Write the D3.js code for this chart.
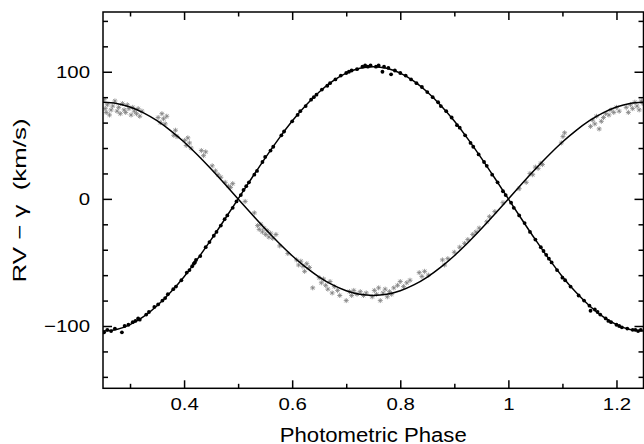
<!DOCTYPE html>
<html><head><meta charset="utf-8">
<script src="https://cdn.jsdelivr.net/npm/d3@7"></script>
<style>html,body{margin:0;padding:0;background:#fff}</style>
</head><body>
<svg id="c" width="644" height="444"></svg>
<script>
// ---- data ----
const curvePhase = [0.25,0.275,0.3,0.325,0.35,0.375,0.4,0.425,0.45,0.475,0.5,0.525,0.55,0.575,0.6,0.625,0.65,0.675,0.7,0.725,0.75,0.775,0.8,0.825,0.85,0.875,0.9,0.925,0.95,0.975,1.0,1.025,1.05,1.075,1.1,1.125,1.15,1.175,1.2,1.225,1.25];
const curvePrimary = [-104,-102.8,-98.9,-92.7,-84.1,-73.5,-61.2,-47.2,-32.1,-16.2,0,16.2,32.1,47.2,61.2,73.5,84.1,92.7,98.9,102.8,104,102.8,98.9,92.7,84.1,73.5,61.2,47.2,32.1,16.2,0,-16.2,-32.1,-47.2,-61.2,-73.5,-84.1,-92.7,-98.9,-102.8,-104];
const curveSecondary = [76,75.1,72.3,67.7,61.5,53.7,44.7,34.5,23.5,11.9,0,-11.9,-23.5,-34.5,-44.7,-53.7,-61.5,-67.7,-72.3,-75.1,-76,-75.1,-72.3,-67.7,-61.5,-53.7,-44.7,-34.5,-23.5,-11.9,0,11.9,23.5,34.5,44.7,53.7,61.5,67.7,72.3,75.1,76];

const primaryObs = [
[0.252,-105],[0.258,-103],[0.265,-104],[0.272,-102],[0.285,-105],[0.29,-100],[0.297,-99],[0.305,-97],[0.31,-96],[0.315,-94],[0.318,-95],[0.33,-91],[0.335,-89],[0.345,-85],[0.352,-83],[0.36,-80],[0.365,-78],[0.37,-75],[0.38,-71],[0.385,-69],[0.395,-64],[0.405,-58],[0.41,-56],[0.415,-53],[0.418,-51],[0.42,-50],[0.422,-48],[0.43,-45],[0.44,-38],[0.447,-34],[0.455,-29],[0.46,-26],[0.468,-21],[0.475,-16],[0.48,-13],[0.49,-7],[0.497,-2],
[0.505,3],[0.51,7],[0.515,10],[0.52,13],[0.53,19],[0.535,22],[0.545,29],[0.55,33],[0.56,38],[0.565,41],[0.58,50],[0.585,53],[0.6,61],[0.61,66],[0.615,69],[0.625,73],[0.635,78],[0.64,80],[0.645,82],[0.655,86],[0.665,89],[0.67,91],[0.68,94],[0.69,97],[0.7,99],[0.705,100],[0.71,101],[0.72,102],[0.73,104],[0.735,105],[0.74,104],[0.745,105],[0.755,104],[0.76,105],[0.767,100],[0.77,104],[0.778,103],[0.783,98],[0.79,101],
[0.8,99],[0.81,97],[0.82,94],[0.83,91],[0.84,88],[0.85,84],[0.86,80],[0.87,76],[0.875,73],[0.885,69],[0.895,64],[0.905,58],[0.91,56],[0.92,50],[0.93,44],[0.935,41],[0.945,35],[0.955,29],[0.96,26],[0.97,19],[0.98,13],[0.99,6],[0.995,3],
[1.005,-3],[1.01,-7],[1.02,-13],[1.03,-19],[1.04,-26],[1.05,-32],[1.06,-38],[1.065,-41],[1.07,-44],[1.075,-47],[1.08,-50],[1.09,-56],[1.1,-62],[1.105,-64],[1.115,-69],[1.13,-76],[1.14,-80],[1.15,-84],[1.152,-88],[1.16,-87],[1.165,-89],[1.17,-91],[1.18,-94],[1.185,-96],[1.19,-97],[1.2,-99],[1.205,-100],[1.21,-101],[1.22,-102],[1.23,-103],[1.235,-103],[1.24,-104],[1.245,-103]
];

const secondaryObs = [
[0.252,78],[0.254,71],[0.256,68],[0.258,74],[0.262,66],[0.265,70],[0.268,73],[0.272,77],[0.276,69],[0.279,72],[0.282,67],[0.286,75],[0.289,70],[0.292,68],[0.295,74],[0.298,71],[0.302,66],[0.305,72],[0.308,69],[0.312,67],[0.315,71],[0.318,65],[0.322,69],
[0.352,64],[0.356,60],[0.359,67],[0.362,63],[0.365,59],[0.368,65],[0.381,50],[0.384,54],[0.387,49],[0.401,46],[0.404,42],[0.407,48],[0.41,44],[0.413,40],[0.432,38],[0.436,34],[0.44,37],
[0.452,26],[0.458,22],[0.463,19],[0.468,17],[0.476,13],[0.482,10],[0.486,9],[0.49,12],[0.513,-2],[0.53,-11],[0.536,-21],[0.539,-24],[0.542,-20],[0.545,-26],[0.548,-23],[0.551,-28],[0.554,-25],[0.557,-30],[0.56,-27],[0.564,-31],[0.57,-28],[0.577,-37],[0.592,-43],
[0.608,-48],[0.612,-52],[0.616,-49],[0.62,-53],[0.623,-57],[0.627,-51],[0.632,-54],[0.638,-70],[0.65,-62],[0.654,-66],[0.658,-63],[0.662,-68],[0.666,-71],[0.67,-65],[0.674,-74],[0.678,-69],[0.684,-72],[0.688,-76],
[0.7,-80],[0.706,-73],[0.71,-76],[0.714,-72],[0.72,-75],[0.726,-73],[0.732,-76],[0.737,-74],[0.748,-77],[0.752,-72],[0.756,-75],[0.76,-70],[0.763,-80],[0.768,-74],[0.772,-71],[0.776,-77],[0.78,-73],[0.784,-75],[0.788,-70],[0.795,-68],
[0.8,-65],[0.806,-69],[0.812,-66],[0.818,-64],[0.835,-58],[0.84,-61],[0.845,-57],[0.852,-60],[0.878,-48],[0.882,-52],[0.888,-47],
[0.9,-42],[0.91,-38],[0.919,-35],[0.925,-32],[0.934,-28],[0.94,-26],[0.946,-23],[0.96,-18],[0.965,-14],[0.975,-10],[0.99,-3],
[1.02,8],[1.033,13],[1.04,20],[1.045,19],[1.05,25],[1.055,24],[1.06,28],[1.063,27],[1.098,44],[1.101,49],[1.104,52],
[1.152,57],[1.156,62],[1.16,59],[1.163,65],[1.168,55],[1.172,61],[1.176,64],[1.18,67],[1.186,66],[1.19,70],[1.195,68],[1.2,72],[1.205,69],
[1.218,72],[1.222,68],[1.226,74],[1.23,71],[1.234,76],[1.238,73],[1.242,70],[1.246,77],[1.249,75]
];

const xMajorTicks = [0.4,0.6,0.8,1,1.2];
const xMinorTicks = [0.3,0.5,0.7,0.9,1.1];
const yMajorTicks = [-100,0,100];
const yMinorTicks = [-140,-120,-80,-60,-40,-20,20,40,60,80,120,140];
const xDomain = [0.25,1.25];
const yDomain = [-149,147];
const xLabel = "Photometric Phase";
const yLabel = "RV \u2212 \u03b3\u00a0\u00a0(km/s)";

// ---- layout ----
const L = 103, R = 643.5, T = 12, B = 388.3;
const svg = d3.select("#c");
const x = d3.scaleLinear().domain(xDomain).range([L, R]);
const y = d3.scaleLinear().domain(yDomain).range([B, T]);
const font = "'Liberation Sans', Arial, Helvetica, sans-serif";
const tickFs = 17, tickStretch = 1.2;

svg.append("defs").append("clipPath").attr("id","clip")
  .append("rect").attr("x",L).attr("y",T).attr("width",R-L).attr("height",B-T);

const plot = svg.append("g").attr("clip-path","url(#clip)");

// secondary observations (gray asterisks)
const star = "M-2.5,0H2.5M0,-2.5V2.5M-1.8,-1.8L1.8,1.8M-1.8,1.8L1.8,-1.8";
plot.append("g").selectAll("path").data(secondaryObs).join("path")
  .attr("transform", d => `translate(${x(d[0])},${y(d[1])})`)
  .attr("d", star).attr("fill","none").attr("stroke","#808080").attr("stroke-width",0.8);

// primary observations (black dots)
plot.append("g").selectAll("circle").data(primaryObs).join("circle")
  .attr("cx", d => x(d[0])).attr("cy", d => y(d[1])).attr("r", 1.9).attr("fill","#000");

// fitted curves
const line = d3.line().x(d => x(d[0])).y(d => y(d[1])).curve(d3.curveNatural);
[curvePrimary, curveSecondary].forEach(vals => {
  plot.append("path").datum(curvePhase.map((p,i)=>[p, vals[i]]))
    .attr("d", line).attr("fill","none").attr("stroke","#000").attr("stroke-width",1.5);
});

// axes (ticks inward on all four sides)
function styleAxis(g){
  g.select(".domain").remove();
  g.selectAll(".tick line").attr("stroke","#000").attr("stroke-width",1.5);
  g.selectAll("text").attr("font-family",font).attr("font-size",tickFs).attr("fill","#000");
}
const fmt = d3.format("~g");
const bx = svg.append("g").attr("transform",`translate(0,${B})`)
  .call(d3.axisBottom(x).tickValues(xMajorTicks).tickSize(-8).tickPadding(10).tickFormat(fmt)).call(styleAxis);
bx.selectAll("text").attr("transform",`scale(${tickStretch},1)`);
svg.append("g").attr("transform",`translate(0,${B})`)
  .call(d3.axisBottom(x).tickValues(xMinorTicks).tickSize(-4.5).tickFormat("")).call(styleAxis);
svg.append("g").attr("transform",`translate(0,${T})`)
  .call(d3.axisTop(x).tickValues(xMajorTicks).tickSize(-8).tickFormat("")).call(styleAxis);
svg.append("g").attr("transform",`translate(0,${T})`)
  .call(d3.axisTop(x).tickValues(xMinorTicks).tickSize(-4.5).tickFormat("")).call(styleAxis);
const ly = svg.append("g").attr("transform",`translate(${L},0)`)
  .call(d3.axisLeft(y).tickValues(yMajorTicks).tickSize(-9).tickPadding(13).tickFormat(fmt)).call(styleAxis);
ly.selectAll("text").attr("x", -13/tickStretch).attr("transform",`scale(${tickStretch},1)`);
svg.append("g").attr("transform",`translate(${L},0)`)
  .call(d3.axisLeft(y).tickValues(yMinorTicks).tickSize(-5).tickFormat("")).call(styleAxis);
svg.append("g").attr("transform",`translate(${R},0)`)
  .call(d3.axisRight(y).tickValues(yMajorTicks).tickSize(-9).tickFormat("")).call(styleAxis);
svg.append("g").attr("transform",`translate(${R},0)`)
  .call(d3.axisRight(y).tickValues(yMinorTicks).tickSize(-5).tickFormat("")).call(styleAxis);

// frame
svg.append("rect").attr("x",L).attr("y",T).attr("width",R-L).attr("height",B-T)
  .attr("fill","none").attr("stroke","#000").attr("stroke-width",1.5);

// axis titles
svg.append("text").attr("x",(L+R)/2).attr("y",441.5).attr("text-anchor","middle")
  .attr("font-family",font).attr("font-size",20)
  .attr("textLength",187).attr("lengthAdjust","spacingAndGlyphs").text(xLabel);
svg.append("text").attr("transform",`translate(25.5,${(118+283)/2}) rotate(-90)`).attr("text-anchor","middle")
  .attr("font-family",font).attr("font-size",19).style("white-space","pre")
  .attr("textLength",164).attr("lengthAdjust","spacingAndGlyphs").text(yLabel);
</script>
</body></html>
